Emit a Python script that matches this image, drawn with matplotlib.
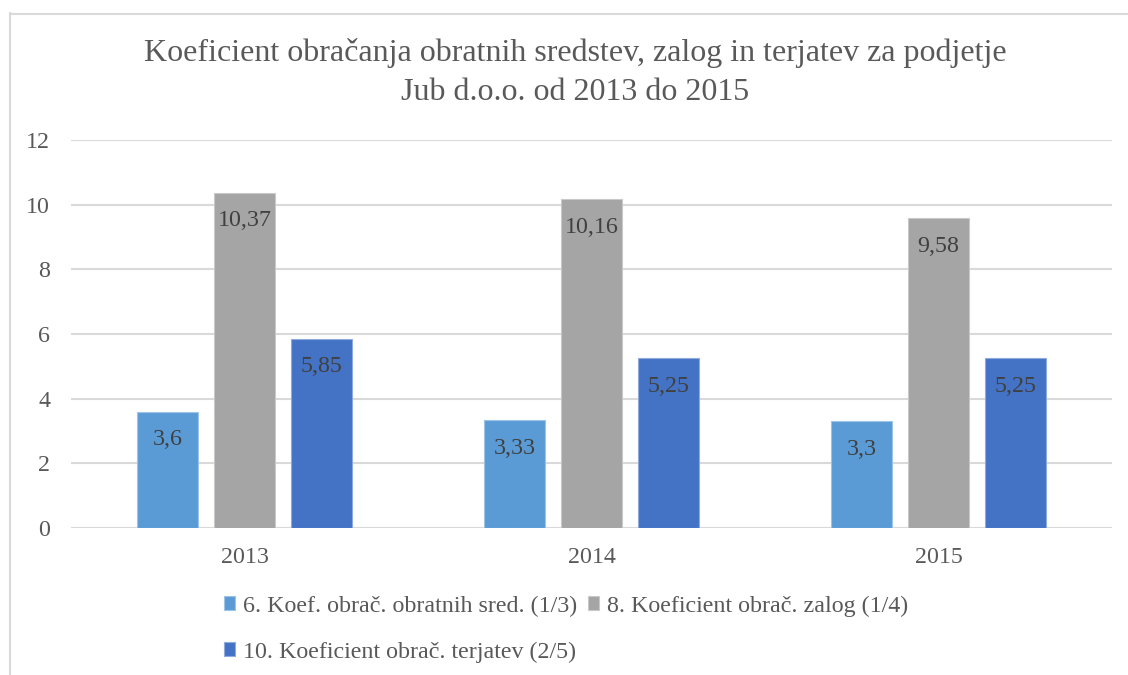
import matplotlib
matplotlib.use("Agg")
import matplotlib.pyplot as plt
from matplotlib.lines import Line2D
import numpy as np

categories = ["2013", "2014", "2015"]
series_names = [
    "6. Koef. obrač. obratnih sred. (1/3)",
    "8. Koeficient obrač. zalog (1/4)",
    "10. Koeficient obrač. terjatev (2/5)",
]
s1 = [3.6, 3.33, 3.3]
s2 = [10.37, 10.16, 9.58]
s3 = [5.85, 5.25, 5.25]
labels1 = ["3,6", "3,33", "3,3"]
labels2 = ["10,37", "10,16", "9,58"]
labels3 = ["5,85", "5,25", "5,25"]
colors = ["#5B9BD5", "#A5A5A5", "#4472C4"]
edge_colors = ["#9DC3E6", "#C9C9C9", "#8FAADC"]
yticks = [0, 2, 4, 6, 8, 10, 12]
title_lines = ["Koeficient obračanja obratnih sredstev, zalog in terjatev za podjetje",
               "Jub d.o.o. od 2013 do 2015"]

plt.rcParams['font.family'] = ['Liberation Serif', 'DejaVu Serif']
W, H = 1128, 675
fig = plt.figure(figsize=(W / 100, H / 100), dpi=100)
ax = fig.add_axes([71 / W, 1 - 528 / H, (1112 - 71) / W, (528 - 140) / H])

x = np.arange(len(categories))
bw = 0.176
step = 0.222
all_series = [s1, s2, s3]
all_labels = [labels1, labels2, labels3]
handles = []
for i, (vals, labs) in enumerate(zip(all_series, all_labels)):
    pos = x + (i - 1) * step
    bars = ax.bar(pos, vals, width=bw, color=colors[i], edgecolor=edge_colors[i],
                  linewidth=0.8, zorder=3, label=series_names[i])
    handles.append(bars)
    for p, v, t in zip(pos, vals, labs):
        ax.annotate(t, (p, v), xytext=(0, -28), textcoords='offset pixels',
                    ha='center', va='center', fontsize=17.3, color='#404040', zorder=4)

ax.set_xlim(-0.5, 2.5)
ax.set_ylim(0, 12)
ax.set_yticks(yticks)
ax.set_yticklabels([str(t) for t in yticks])
ax.set_xticks(x)
ax.set_xticklabels(categories)
ax.tick_params(axis='both', length=0, labelsize=17.3, colors='#595959')
ax.tick_params(axis='y', pad=15)
ax.tick_params(axis='x', pad=14)
ax.grid(axis='y', color='#D9D9D9', linewidth=1.5, zorder=0)
ax.set_axisbelow(True)
for sp in ax.spines.values():
    sp.set_visible(False)

fig.text(575 / W, 1 - 53 / H, title_lines[0], ha='center', va='center', fontsize=23,
         color='#595959')
fig.text(575 / W, 1 - 93 / H, title_lines[1], ha='center', va='center', fontsize=23,
         color='#595959')

leg_kw = dict(frameon=False, fontsize=17.3, labelcolor='#595959', handlelength=0.47,
              handleheight=0.47, handletextpad=0.34, columnspacing=0.42,
              borderpad=0, borderaxespad=0)
leg1 = fig.legend(handles[:2], series_names[:2], ncol=2, loc='center left',
                  bbox_to_anchor=(224 / W, 1 - 606 / H), **leg_kw)
leg2 = fig.legend(handles[2:], series_names[2:], ncol=1, loc='center left',
                  bbox_to_anchor=(224 / W, 1 - 652 / H), **leg_kw)

# chart border (partially visible)
fig.add_artist(Line2D([9.5 / W, 9.5 / W], [0, 1 - 13 / H], transform=fig.transFigure,
                      color='#D9D9D9', linewidth=1.5))
fig.add_artist(Line2D([9.5 / W, 1], [1 - 13.5 / H, 1 - 13.5 / H], transform=fig.transFigure,
                      color='#D9D9D9', linewidth=1.5))

fig.savefig("out.png", dpi=100, facecolor='white')
